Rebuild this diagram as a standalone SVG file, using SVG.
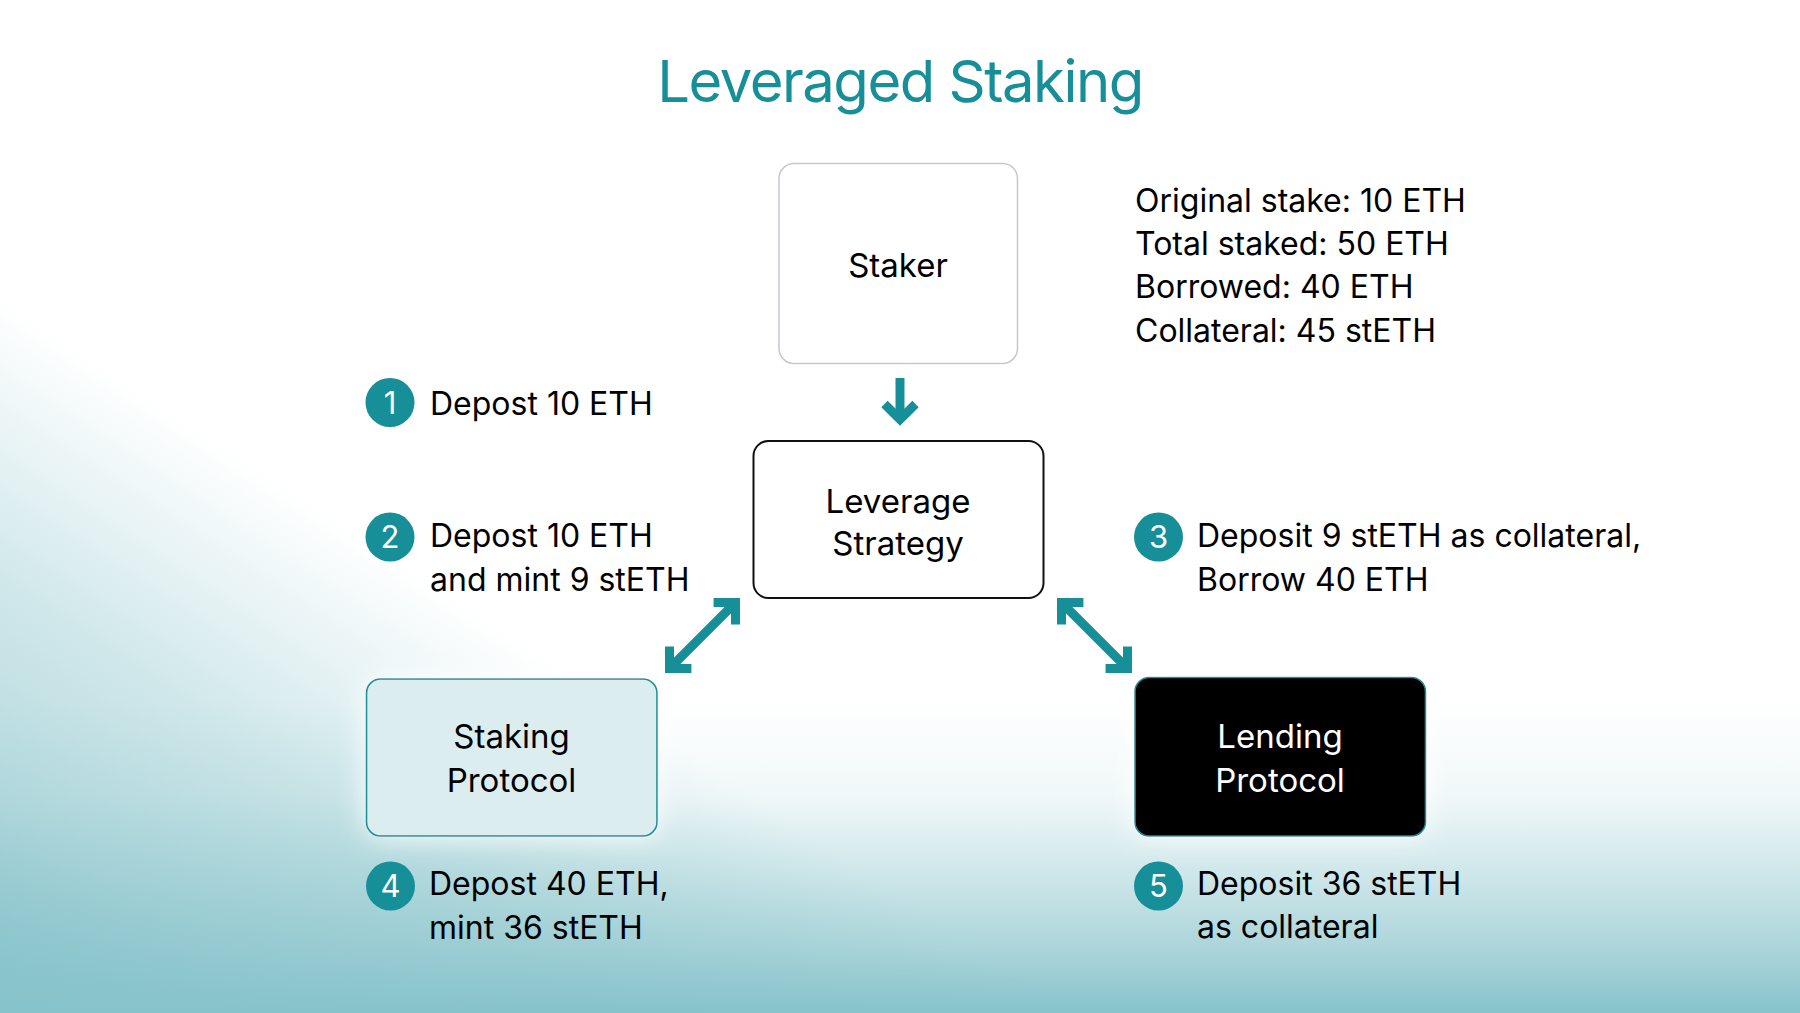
<svg xmlns="http://www.w3.org/2000/svg" width="1800" height="1013" viewBox="0 0 1800 1013">
  <defs>
    <linearGradient id="bgV" gradientUnits="userSpaceOnUse" x1="0" y1="700" x2="0" y2="1013">
      <stop offset="0" stop-color="#87c3ca" stop-opacity="0"/>
      <stop offset="0.3" stop-color="#87c3ca" stop-opacity="0.12"/>
      <stop offset="0.55" stop-color="#87c3ca" stop-opacity="0.4"/>
      <stop offset="0.78" stop-color="#87c3ca" stop-opacity="0.68"/>
      <stop offset="1" stop-color="#87c3ca" stop-opacity="1"/>
    </linearGradient>
    <linearGradient id="bgL" gradientUnits="userSpaceOnUse" x1="350" y1="530" x2="20" y2="1032">
      <stop offset="0" stop-color="#87c3ca" stop-opacity="0"/>
      <stop offset="0.12" stop-color="#87c3ca" stop-opacity="0.12"/>
      <stop offset="0.4" stop-color="#87c3ca" stop-opacity="0.4"/>
      <stop offset="0.7" stop-color="#87c3ca" stop-opacity="0.62"/>
      <stop offset="1" stop-color="#87c3ca" stop-opacity="0.95"/>
    </linearGradient>
    <filter id="glow" x="-30%" y="-30%" width="160%" height="160%">
      <feDropShadow dx="0" dy="0" stdDeviation="14" flood-color="#ffffff" flood-opacity="0.95"/>
    </filter>
    <marker id="chev" markerUnits="userSpaceOnUse" orient="auto-start-reverse" refX="0" refY="0" overflow="visible" markerWidth="40" markerHeight="40">
      <path d="M-15.5,-15.5 L0,0 L-15.5,15.5" fill="none" stroke="#178f98" stroke-width="9" stroke-linejoin="miter" stroke-miterlimit="10"/>
    </marker>
  </defs>
  <style>
    text { font-family: Inter, "Noto Sans", "Liberation Sans", sans-serif; fill: #000; }
    .title { font-size: 58px; fill: #178f98; font-weight: 400; letter-spacing: -1.5px; }
    .node { font-size: 33px; text-anchor: middle; }
    .lbl { font-size: 32px; }
    .num { font-size: 31px; fill: #ffffff; text-anchor: middle; }
    .badge { fill: #178f98; }
    .conn { fill: none; stroke: #178f98; stroke-width: 9; }
  </style>

  <rect x="0" y="0" width="1800" height="1013" fill="#ffffff"/>
  <rect x="0" y="0" width="1800" height="1013" fill="url(#bgL)"/>
  <rect x="0" y="0" width="1800" height="1013" fill="url(#bgV)"/>

  <text class="title" x="900" y="102" text-anchor="middle">Leveraged Staking</text>

  <g id="staker">
    <rect x="779" y="163.5" width="238.5" height="200" rx="15" fill="#ffffff" stroke="#c6c6d8" stroke-width="1.5"/>
    <text class="node" x="898" y="277">Staker</text>
  </g>

  <g id="stats">
    <text class="lbl" x="1135" y="212">Original stake: 10 ETH</text>
    <text class="lbl" x="1135" y="255">Total staked: 50 ETH</text>
    <text class="lbl" x="1135" y="298">Borrowed: 40 ETH</text>
    <text class="lbl" x="1135" y="342">Collateral: 45 stETH</text>
  </g>

  <g id="leverage-strategy">
    <rect x="753.5" y="441" width="290" height="157" rx="15" fill="#ffffff" stroke="#111111" stroke-width="2"/>
    <text class="node" x="898" y="513">Leverage</text>
    <text class="node" x="898" y="555">Strategy</text>
  </g>

  <g id="staking-protocol">
    <rect x="366.5" y="679" width="290.5" height="157" rx="14" fill="#dcedf0" stroke="#1a8f98" stroke-width="1.6" filter="url(#glow)"/>
    <text class="node" x="511.5" y="748">Staking</text>
    <text class="node" x="511.5" y="792">Protocol</text>
  </g>

  <g id="lending-protocol">
    <rect x="1135" y="677.5" width="290.5" height="158.5" rx="14" fill="#000000" stroke="#1a8f98" stroke-width="1.6" filter="url(#glow)"/>
    <text class="node" x="1280" y="748" style="fill:#ffffff">Lending</text>
    <text class="node" x="1280" y="792" style="fill:#ffffff">Protocol</text>
  </g>

  <g id="step1">
    <circle class="badge" cx="390" cy="402.5" r="24.5"/>
    <text class="num" x="390" y="413.5">1</text>
    <text class="lbl" x="430" y="415">Depost 10 ETH</text>
  </g>

  <g id="step2">
    <circle class="badge" cx="390" cy="537" r="24.5"/>
    <text class="num" x="390" y="548">2</text>
    <text class="lbl" x="430" y="547">Depost 10 ETH</text>
    <text class="lbl" x="430" y="591">and mint 9 stETH</text>
  </g>

  <g id="step3">
    <circle class="badge" cx="1158.5" cy="537" r="24.5"/>
    <text class="num" x="1158.5" y="548">3</text>
    <text class="lbl" x="1197" y="547">Deposit 9 stETH as collateral,</text>
    <text class="lbl" x="1197" y="591">Borrow 40 ETH</text>
  </g>

  <g id="step4">
    <circle class="badge" cx="390.5" cy="886" r="24.5"/>
    <text class="num" x="390.5" y="897">4</text>
    <text class="lbl" x="429" y="895">Depost 40 ETH,</text>
    <text class="lbl" x="429" y="939">mint 36 stETH</text>
  </g>

  <g id="step5">
    <circle class="badge" cx="1158.5" cy="886" r="24.5"/>
    <text class="num" x="1158.5" y="897">5</text>
    <text class="lbl" x="1197" y="895">Deposit 36 stETH</text>
    <text class="lbl" x="1197" y="938">as collateral</text>
  </g>

  <g id="connectors">
    <path class="conn" d="M900,378 L900,419.5" marker-end="url(#chev)"/>
    <path class="conn" d="M669.5,668.5 L735.5,602.5" marker-start="url(#chev)" marker-end="url(#chev)"/>
    <path class="conn" d="M1061.5,602.5 L1127.5,668.5" marker-start="url(#chev)" marker-end="url(#chev)"/>
  </g>
</svg>
